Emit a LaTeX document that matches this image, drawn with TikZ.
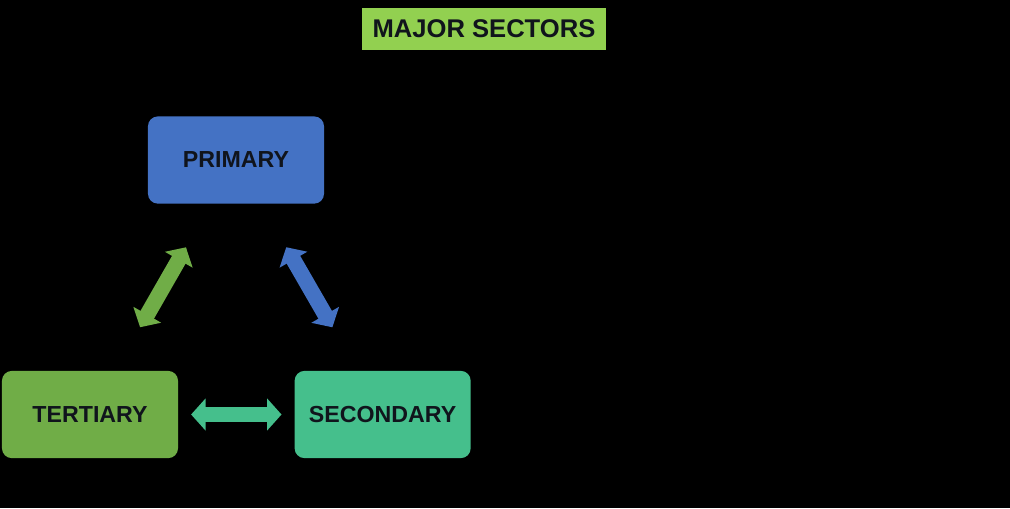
\documentclass[tikz,border=0pt]{standalone}
\usepackage{fontspec}
\setmainfont{Liberation Sans}
\usepackage{xcolor}
\usetikzlibrary{arrows.meta,positioning}
\definecolor{SectorBlue}{HTML}{4472C4}
\definecolor{SectorGreen}{HTML}{70AD47}
\definecolor{SectorTeal}{HTML}{45BF8C}
\definecolor{TitleGreen}{HTML}{92D050}
\definecolor{LabelDark}{HTML}{10141C}

\begin{document}
\begin{tikzpicture}[x=0.025cm, y=-0.025cm, node distance=2.9cm,
    every node/.style={font=\bfseries\fontsize{16.5}{19}\selectfont, text=LabelDark},
    sector/.style={rounded corners=7pt, minimum width=4.4cm, minimum height=2.18cm, align=center},
    twoway/.style={line width=0.39cm, {Triangle[width=0.78cm,length=0.36cm]}-{Triangle[width=0.78cm,length=0.36cm]},
      shorten <=#1, shorten >=#1},
    twoway/.default=1.25cm]
      \fill[black] (0,0) rectangle (1010,508);
      \node[fill=TitleGreen, minimum width=6.1cm, minimum height=1.05cm, font=\bfseries\fontsize{18.2}{22}\selectfont] (title) at (484,29) {MAJOR SECTORS};
      \node[sector, fill=SectorBlue] (P) at (236,160) {PRIMARY};
      \node[sector, fill=SectorGreen] (T) at (90,414.5) {TERTIARY};
      \node[sector, fill=SectorTeal, right=of T] (S) {SECONDARY};
      \draw[twoway, SectorGreen] (P) -- (T);
      \draw[twoway, SectorBlue] (P) -- (S);
      \draw[twoway=0.32cm, SectorTeal] (T) -- (S);
    \end{tikzpicture}
\end{document}
